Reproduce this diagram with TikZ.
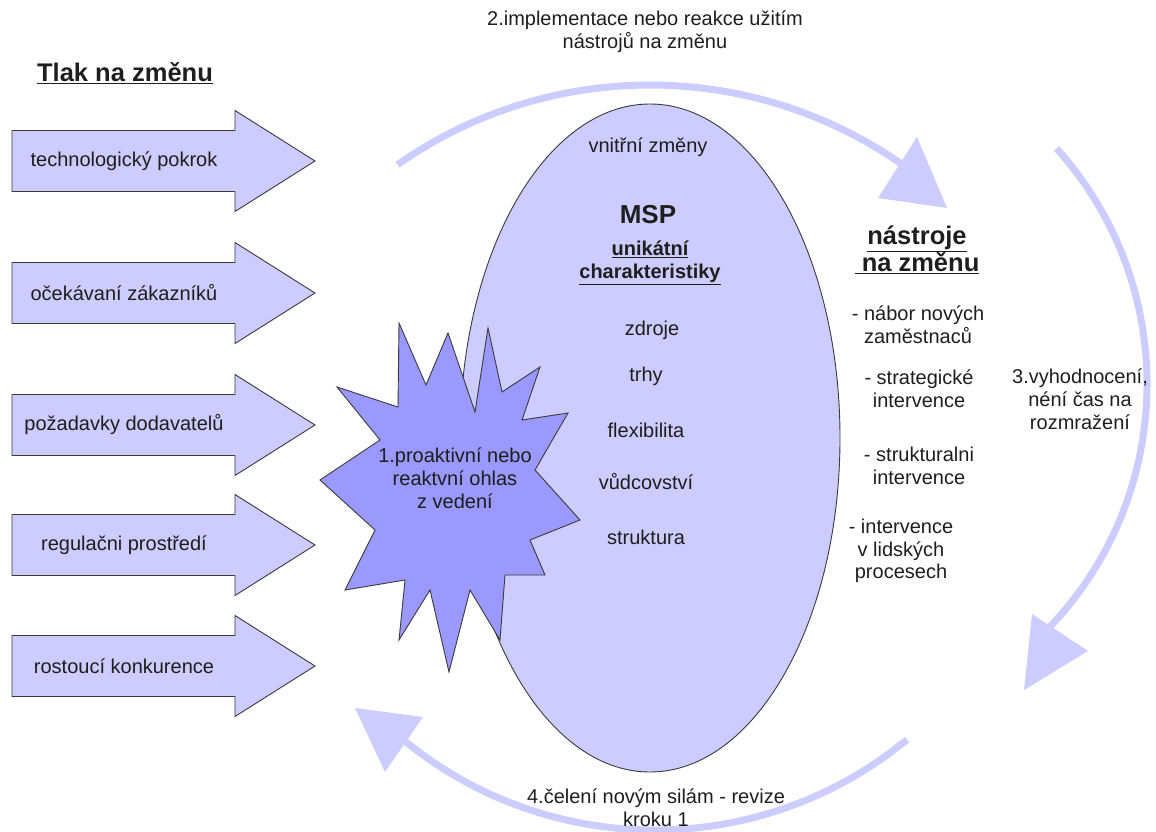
\documentclass[tikz,border=0pt]{standalone}
\usepackage{fontspec}
\setmainfont{Liberation Sans}
\usetikzlibrary{shapes.geometric}
\definecolor{lav}{HTML}{CCCCFF}
\definecolor{burst}{HTML}{9999FF}
\definecolor{ink}{HTML}{1E1E1E}
\definecolor{edge}{HTML}{3A3A3A}
\begin{document}
\begin{tikzpicture}[x=1pt,y=-1pt,
  txt/.style={font=\fontsize{20}{22.8}\selectfont, text=ink, align=center, inner sep=0pt},
  head/.style={font=\fontsize{25.5}{27}\bfseries\selectfont, text=ink, align=center, inner sep=0pt},
  sub/.style={font=\fontsize{20}{23}\bfseries\selectfont, text=ink, align=center, inner sep=0pt},
  forcearrow/.style={fill=lav, draw=edge, line width=0.9pt, line join=miter},
  burststyle/.style={fill=burst, draw=edge, line width=0.9pt, line join=miter},
  cycle arc/.style={draw=lav, line width=7pt},
  cycle tip/.style={fill=lav}]
\useasboundingbox (0,0) rectangle (1156,832);

% ---- cycle of four steps around the firm ----
\coordinate (c1s) at (397.6,164.6);
\draw[cycle arc] (c1s) arc[start angle=-125, end angle=-54, radius=440];
\fill[cycle tip] (917,137) -- (947,208) -- (878,198) -- cycle;

\coordinate (c2s) at (1056.6,148.5);
\draw[cycle arc] (c2s) arc[start angle=-42, end angle=44, radius=352];
\fill[cycle tip] (1032,614) -- (1088,651) -- (1024,690) -- cycle;

\coordinate (c3s) at (906.9,739.6);
\draw[cycle arc] (c3s) arc[start angle=50.5, end angle=130, radius=396];
\fill[cycle tip] (355,708) -- (423,717) -- (385,772) -- cycle;

% ---- the firm (MSP) ----
\node[ellipse, fill=lav, draw=edge, line width=0.9pt, minimum width=380pt, minimum height=668pt, inner sep=0pt] (msp) at (650,438) {};

\node[txt] (inner) at (648,147) {vnitřní změny};
\node[font=\fontsize{26}{28}\bfseries\selectfont, text=ink, inner sep=0pt] (mspname) at (648,215) {MSP};
\node[sub] (uniq) at (650,263) {\underline{unikátní}\\\underline{charakteristiky}};
\node[txt] (z1) at (652,330) {zdroje};
\node[txt] (z2) at (646,376) {trhy};
\node[txt] (z3) at (646,430) {flexibilita};
\node[txt] (z4) at (646,482) {vůdcovství};
\node[txt] (z5) at (646,537) {struktura};

% ---- leadership response (burst) ----
\draw[burststyle] (399,323) -- (426,385) -- (448,333) -- (475,412) -- (488,328)
  -- (502,392) -- (540,367) -- (522,420) -- (568,413) -- (535,470) -- (580,520)
  -- (530,540) -- (545,575) -- (505,575) -- (500,640) -- (470,590) -- (449,672)
  -- (430,590) -- (399,640) -- (405,580) -- (345,590) -- (375,530) -- (320,480)
  -- (380,440) -- (337,387) -- (398,407) -- cycle;
\node[txt] (lead) at (455,478) {1.proaktivní nebo\\reaktvní ohlas\\z vedení};

% ---- pressures for change ----
\node[head] (press) at (125,73) {\underline{Tlak na změnu}};
\foreach \yc/\lab/\nm in {161/technologický pokrok/p1, 293/očekávaní zákazníků/p2,
    425/požadavky dodavatelů/p3, 545/regulačni prostředí/p4, 666/rostoucí konkurence/p5}{
  \draw[forcearrow] (12,\yc-30.5) -- (235,\yc-30.5) -- (235,\yc-50.5) -- (315,\yc)
    -- (235,\yc+50.5) -- (235,\yc+30.5) -- (12,\yc+30.5) -- cycle;
  \node[txt] (\nm) at (124,\yc) {\lab};
}

% ---- tools for change ----
\node[head] (tools) at (917,250) {\underline{nástroje}\\\underline{\ na změnu}};
\node[txt] (t1) at (918,325) {- nábor nových\\zaměstnaců};
\node[txt] (t2) at (919,389) {- strategické\\intervence};
\node[txt] (t3) at (919,466) {- strukturalni\\intervence};
\node[txt] (t4) at (901,551) {- intervence\\v lidských\\procesech};

% ---- step labels ----
\node[txt] (s2) at (645,32) {2.implementace nebo reakce užitím\\nástrojů na změnu};
\node[txt] (s3) at (1080,399) {3.vyhodnocení,\\néní čas na\\rozmražení};
\node[txt] (s4) at (656,808) {4.čelení novým silám - revize\\kroku 1};
\end{tikzpicture}
\end{document}
